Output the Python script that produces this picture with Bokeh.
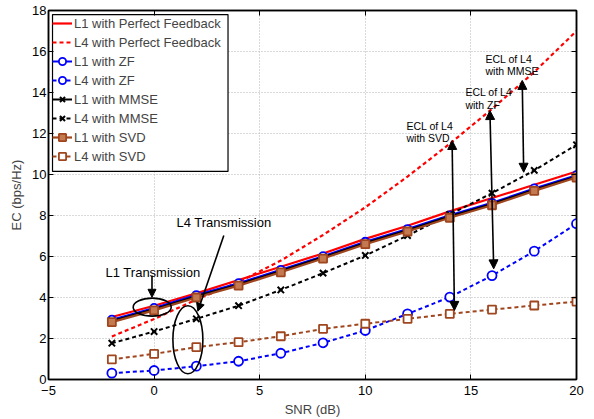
from bokeh.plotting import figure
from bokeh.models import (LinearAxis, FixedTicker, Arrow, NormalHead, Legend,
                          LegendItem, Range1d)
from bokeh.core.properties import value
from bokeh.embed import file_html
from bokeh.resources import INLINE

# SNR sweep (dB)
snr = [-2, 0, 2, 4, 6, 8, 10, 12, 14, 16, 18, 20]

# Effective capacity (bps/Hz)
l1_perfect = [3.05, 3.6, 4.2, 4.85, 5.5, 6.15, 6.86, 7.5, 8.2, 8.85, 9.5, 10.15]
l4_perfect = [2.1, 2.95, 3.9, 4.75, 5.8, 7.05, 8.4, 9.9, 11.5, 13.2, 15.0, 17.0]
l1_zf = [2.92, 3.49, 4.12, 4.7, 5.35, 6.02, 6.72, 7.34, 8.01, 8.62, 9.32, 9.97]
l4_zf = [0.31, 0.44, 0.65, 0.89, 1.28, 1.79, 2.39, 3.2, 4.02, 5.07, 6.26, 7.6]
l1_mmse = [2.86, 3.43, 4.06, 4.64, 5.29, 5.96, 6.66, 7.28, 7.95, 8.56, 9.26, 9.91]
l4_mmse = [1.77, 2.34, 2.96, 3.6, 4.37, 5.19, 6.05, 7.02, 8.05, 9.09, 10.2, 11.45]
l1_svd = [2.8, 3.37, 4.0, 4.58, 5.23, 5.9, 6.6, 7.22, 7.89, 8.5, 9.2, 9.85]
l4_svd = [0.98, 1.25, 1.58, 1.82, 2.11, 2.47, 2.72, 2.96, 3.2, 3.41, 3.61, 3.8]

x_ticks = [-5, 0, 5, 10, 15, 20]
y_ticks = [0, 2, 4, 6, 8, 10, 12, 14, 16, 18]

# ECL arrows: (x_top, y_top, x_bottom, y_bottom)
ecl_svd = (14.11, 11.66, 14.22, 3.37)
ecl_zf = (15.90, 13.12, 16.08, 5.40)
ecl_mmse = (17.43, 14.59, 17.50, 10.11)

# ECL captions: (x, baseline of first line, baseline of second line, second line)
ecl_text = [
    (11.95, 12.39, 11.79, "with SVD"),
    (14.74, 14.01, 13.41, "with ZF"),
    (15.69, 15.64, 15.07, "with MMSE"),
]

FONT = "Liberation Sans"
RED = "#ff0000"
BLUE = "#0000ff"
BROWN = "#a0461e"

p = figure(width=594, height=419, x_range=Range1d(-5, 20), y_range=Range1d(0, 18),
           output_backend="svg", toolbar_location=None,
           min_border_left=48, min_border_right=18, min_border_top=10,
           min_border_bottom=40)
p.background_fill_color = "white"
p.outline_line_color = "black"
p.outline_line_width = 1.5

for ax in (p.xaxis[0], p.yaxis[0]):
    ax.major_label_text_font = FONT
    ax.major_label_text_font_size = "13px"
    ax.major_label_text_color = "black"
    ax.axis_label_text_font = FONT
    ax.axis_label_text_font_size = "13px"
    ax.axis_label_text_font_style = "normal"
    ax.axis_line_width = 1.5
    ax.major_tick_in = 5
    ax.major_tick_out = 0
    ax.minor_tick_in = 0
    ax.minor_tick_out = 0

p.xaxis.ticker = FixedTicker(ticks=x_ticks)
p.yaxis.ticker = FixedTicker(ticks=y_ticks)
p.xaxis.axis_label = "SNR (dB)"
p.yaxis.axis_label = "EC (bps/Hz)"
p.xaxis.major_label_standoff = 6
p.xaxis.axis_label_standoff = 4
p.yaxis.major_label_standoff = 2
p.yaxis.axis_label_standoff = 5
p.xaxis.major_label_overrides = {-5: "\u22125"}

# Box ticks on the top and right edges, without labels
for side, ticks in (("above", x_ticks), ("right", y_ticks)):
    ax = LinearAxis(ticker=FixedTicker(ticks=ticks), major_tick_in=5, major_tick_out=0,
                    minor_tick_in=0, minor_tick_out=0, major_label_text_font_size="1px",
                    major_label_text_color=None, major_label_standoff=0,
                    axis_line_width=1.5)
    p.add_layout(ax, side)

p.xgrid.ticker = FixedTicker(ticks=x_ticks)
p.ygrid.ticker = FixedTicker(ticks=y_ticks)
for g in (p.xgrid[0], p.ygrid[0]):
    g.grid_line_color = "#b4b4b4"
    g.grid_line_dash = "1 2"
    g.grid_line_width = 1

DASH = "4 3"
items = []

r = p.line(snr, l1_perfect, line_color=RED, line_width=2.2)
items.append(("L1 with Perfect Feedback", [r]))
r = p.line(snr, l4_perfect, line_color=RED, line_width=2.2, line_dash=DASH)
items.append(("L4 with Perfect Feedback", [r]))

r1 = p.line(snr, l1_zf, line_color=BLUE, line_width=2)
r2 = p.scatter(snr, l1_zf, marker="circle", size=8, line_color=BLUE, line_width=1.8,
               fill_color="white")
items.append(("L1 with ZF", [r1, r2]))
r1 = p.line(snr, l4_zf, line_color=BLUE, line_width=2, line_dash=DASH)
r2 = p.scatter(snr, l4_zf, marker="circle", size=9, line_color=BLUE, line_width=1.8,
               fill_color="white")
items.append(("L4 with ZF", [r1, r2]))

r1 = p.line(snr, l1_mmse, line_color="black", line_width=2)
r2 = p.scatter(snr, l1_mmse, marker="x", size=9, line_color="black", line_width=2)
items.append(("L1 with MMSE", [r1, r2]))
r1 = p.line(snr, l4_mmse, line_color="black", line_width=2, line_dash=DASH)
r2 = p.scatter(snr, l4_mmse, marker="x", size=9, line_color="black", line_width=2)
items.append(("L4 with MMSE", [r1, r2]))

r1 = p.line(snr, l1_svd, line_color=BROWN, line_width=2.2)
r2 = p.scatter(snr, l1_svd, marker="square", size=8, line_color=BROWN, line_width=1.8,
               fill_color="#c47a50")
items.append(("L1 with SVD", [r1, r2]))
r1 = p.line(snr, l4_svd, line_color=BROWN, line_width=2, line_dash=DASH)
r2 = p.scatter(snr, l4_svd, marker="square", size=8, line_color=BROWN, line_width=1.8,
               fill_color="white")
items.append(("L4 with SVD", [r1, r2]))

# ECL double-headed arrows
for xt, yt, xb, yb in (ecl_svd, ecl_zf, ecl_mmse):
    p.add_layout(Arrow(x_start=xt, y_start=yt, x_end=xb, y_end=yb, line_width=1.6,
                       start=NormalHead(size=9, fill_color="black", line_color="black"),
                       end=NormalHead(size=9, fill_color="black", line_color="black")))

for x, y1, y2, second in ecl_text:
    p.text(x=[x, x], y=[y1, y2], text=["ECL of L4", second], text_font=value(FONT),
           text_font_size="10.5px", text_color="black", text_baseline="alphabetic",
           text_align="left")

# Transmission callouts
p.ellipse(x=[-0.09], y=[3.53], width=1.8, height=0.88, fill_color=None,
          line_color="black", line_width=1.6)
p.ellipse(x=[1.6], y=[1.94], width=1.42, height=3.32, fill_color=None,
          line_color="black", line_width=1.6)
p.add_layout(Arrow(x_start=-0.1, y_start=5.07, x_end=-0.1, y_end=4.01, line_width=1.6,
                   end=NormalHead(size=8, fill_color="black", line_color="black")))
p.add_layout(Arrow(x_start=3.30, y_start=7.02, x_end=2.07, y_end=3.33, line_width=1.6,
                   end=NormalHead(size=8, fill_color="black", line_color="black")))
p.text(x=[-2.30, 1.06], y=[5.23, 7.67], text=["L1 Transmission", "L4 Transmission"],
       text_font=value(FONT), text_font_size="13px", text_color="black",
       text_baseline="alphabetic", text_align="left")

# White panel with a black frame behind the legend entries
p.quad(left=[-4.81], right=[3.50], top=[17.80], bottom=[10.15], fill_color="white",
       fill_alpha=1, line_color="black", line_width=1.2, level="guide")

legend = Legend(items=[LegendItem(label=lbl, renderers=rs) for lbl, rs in items],
                location="top_left", margin=4, padding=3, spacing=1,
                glyph_width=20, glyph_height=18, label_height=18, label_standoff=2,
                label_text_font=FONT, label_text_font_size="13px",
                border_line_color=None, background_fill_alpha=0)
p.add_layout(legend, "center")

open("out.html", "w").write(file_html(p, INLINE))
